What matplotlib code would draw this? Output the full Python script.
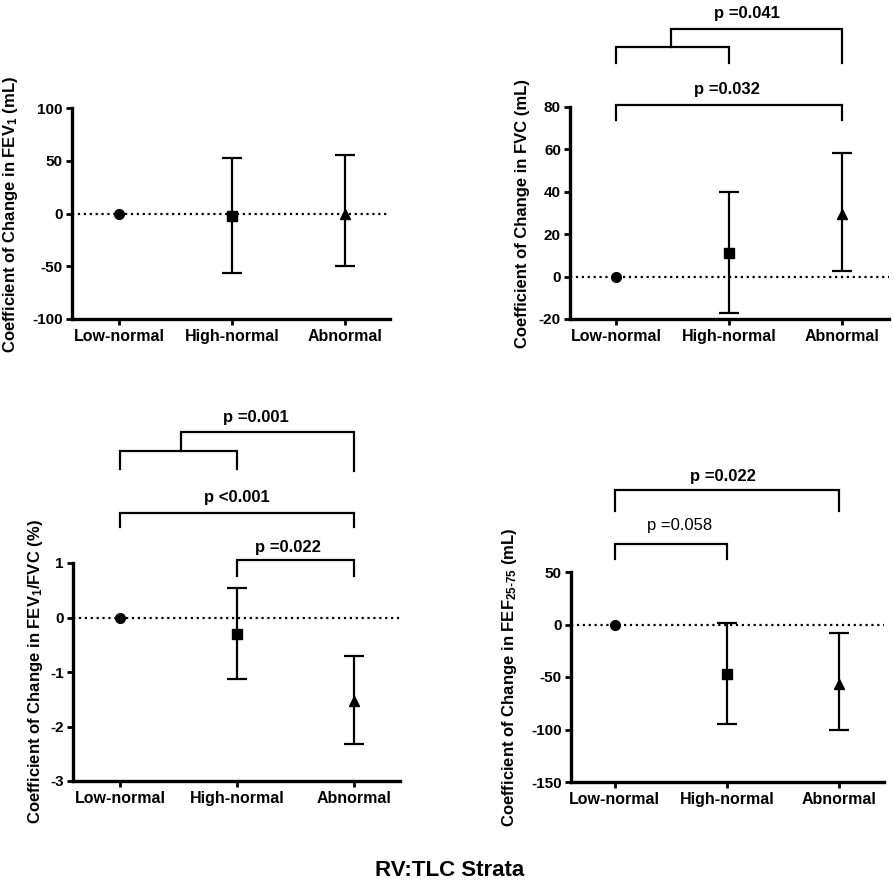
import matplotlib
matplotlib.use("Agg")
import matplotlib.pyplot as plt

plt.rcParams['font.family'] = ['Liberation Sans', 'DejaVu Sans']
plt.rcParams['font.weight'] = 'bold'
plt.rcParams['mathtext.fontset'] = 'custom'
plt.rcParams['mathtext.rm'] = 'Liberation Sans:bold'
plt.rcParams['mathtext.bf'] = 'Liberation Sans:bold'
plt.rcParams['mathtext.it'] = 'Liberation Sans:bold'
plt.rcParams['mathtext.sf'] = 'Liberation Sans:bold'
plt.rcParams['mathtext.default'] = 'rm'

# ---------------- data ----------------
categories = ['Low-normal', 'High-normal', 'Abnormal']

fev1_mean = [0, -2, 0]
fev1_low = [0, -56, -50]
fev1_high = [0, 53, 55]

fvc_mean = [0, 11.3, 29.5]
fvc_low = [0, -17.3, 2.5]
fvc_high = [0, 40, 58.3]

ratio_mean = [0, -0.30, -1.53]
ratio_low = [0, -1.13, -2.33]
ratio_high = [0, 0.54, -0.70]

fef_mean = [0, -46.8, -56.3]
fef_low = [0, -94.4, -100.8]
fef_high = [0, 1.1, -8.1]

fev1_ticks = [-100, -50, 0, 50, 100]
fvc_ticks = [-20, 0, 20, 40, 60, 80]
ratio_ticks = [-3, -2, -1, 0, 1]
fef_ticks = [-150, -100, -50, 0, 50]

markers = ['o', 's', '^']

W, H = 894, 884
fig = plt.figure(figsize=(W / 100, H / 100), dpi=100)


def make_ax(l, r, t, b):
    return fig.add_axes([l / W, 1 - b / H, (r - l) / W, (b - t) / H])


def setup(ax, means, lows, highs, ticks, xlim):
    xs = list(range(len(categories)))
    ax.axhline(0, ls=':', lw=1.6, color='black', zorder=1)
    for i, (m, lo, hi) in enumerate(zip(means, lows, highs)):
        if hi != lo:
            ax.errorbar([xs[i]], [m], yerr=[[m - lo], [hi - m]], fmt='none',
                        ecolor='black', elinewidth=1.6, capsize=7.5,
                        capthick=1.6, zorder=2)
        ms = 7 if markers[i] == 'o' else 6.5
        ax.plot([xs[i]], [m], marker=markers[i], color='black', ms=ms,
                ls='none', zorder=3, clip_on=False)
    ax.set_xlim(*xlim)
    ax.set_ylim(ticks[0], ticks[-1])
    ax.set_yticks(ticks)
    ax.set_yticklabels([str(t) for t in ticks], fontsize=11, fontweight='bold')
    ax.set_xticks(xs)
    ax.set_xticklabels(categories, fontsize=11.5, fontweight='bold')
    for s in ['top', 'right']:
        ax.spines[s].set_visible(False)
    for s in ['left', 'bottom']:
        ax.spines[s].set_linewidth(2.4)
    ax.tick_params(axis='both', width=2, length=4.5, pad=2)
    ax.tick_params(axis='x', pad=3)


def bracket(ax, x0, x1, ytop, yleg0, yleg1):
    ax.plot([x0, x0, x1, x1], [yleg0, ytop, ytop, yleg1], color='black',
            lw=1.6, clip_on=False, solid_joinstyle='miter')


def ptext(ax, x, y, s, bold=True):
    ax.text(x, y, s, ha='center', va='baseline', fontsize=12,
            fontweight='bold' if bold else 'normal', clip_on=False)


# Panel 1: FEV1
ax1 = make_ax(72, 390, 108, 319)
setup(ax1, fev1_mean, fev1_low, fev1_high, fev1_ticks, (-0.416, 2.40))
fig.text(11 / W, 1 - 214 / H, 'Coefficient of Change in FEV$_1$ (mL)',
         rotation=90, ha='center', va='center', fontsize=12, fontweight='bold')

# Panel 2: FVC
ax2 = make_ax(570, 889, 107, 319)
setup(ax2, fvc_mean, fvc_low, fvc_high, fvc_ticks, (-0.407, 2.416))
fig.text(522 / W, 1 - 213 / H, 'Coefficient of Change in FVC (mL)',
         rotation=90, ha='center', va='center', fontsize=12, fontweight='bold')
bracket(ax2, 0, 2, 80.8, 73.7, 73.7)
ptext(ax2, 0.98, 85.9, 'p =0.032')
bracket(ax2, 0, 1, 108.1, 100.6, 100.6)
bracket(ax2, 0.49, 2, 117.0, 108.1, 100.6)
ptext(ax2, 1.16, 122.2, 'p =0.041')

# Panel 3: FEV1/FVC
ax3 = make_ax(73, 400, 563, 781)
setup(ax3, ratio_mean, ratio_low, ratio_high, ratio_ticks, (-0.402, 2.393))
fig.text(36 / W, 1 - 672 / H, 'Coefficient of Change in FEV$_1$/FVC (%)',
         rotation=90, ha='center', va='center', fontsize=12, fontweight='bold')
bracket(ax3, 1, 2, 1.055, 0.761, 0.761)
ptext(ax3, 1.436, 1.20, 'p =0.022')
bracket(ax3, 0, 2, 1.917, 1.661, 1.661)
ptext(ax3, 1.0, 2.12, 'p <0.001')
bracket(ax3, 0, 1, 3.055, 2.725, 2.725)
bracket(ax3, 0.52, 2, 3.404, 3.055, 2.69)
ptext(ax3, 1.16, 3.587, 'p =0.001')

# Panel 4: FEF25-75
ax4 = make_ax(571, 884, 572, 782)
setup(ax4, fef_mean, fef_low, fef_high, fef_ticks, (-0.39, 2.40))
fig.text(510 / W, 1 - 677 / H,
         'Coefficient of Change in FEF$_{\\text{25-75}}$ (mL)',
         rotation=90, ha='center', va='center', fontsize=12, fontweight='bold')
bracket(ax4, 0, 1, 76.4, 62.1, 62.1)
ptext(ax4, 0.58, 89.7, 'p =0.058', bold=False)
bracket(ax4, 0, 2, 127.8, 107.8, 107.8)
ptext(ax4, 0.96, 136.4, 'p =0.022')

fig.text(450 / W, 1 - 871 / H, 'RV:TLC Strata', ha='center', va='center',
         fontsize=16, fontweight='bold')

fig.savefig('out.png', dpi=100)
